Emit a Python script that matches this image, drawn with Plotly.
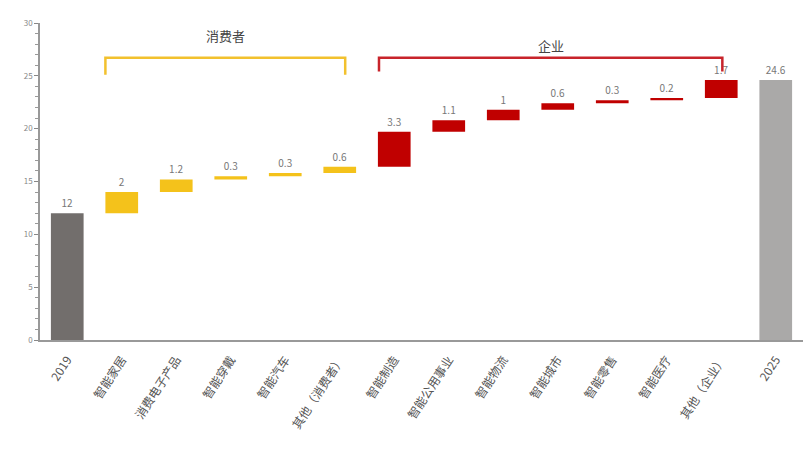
import numpy as np
import plotly.graph_objects as go

categories = ["2019", "智能家居", "消费电子产品", "智能穿戴", "智能汽车", "其他（消费者）",
              "智能制造", "智能公用事业", "智能物流", "智能城市", "智能零售", "智能医疗",
              "其他（企业）", "2025"]
values = [12, 2, 1.2, 0.3, 0.3, 0.6, 3.3, 1.1, 1, 0.6, 0.3, 0.2, 1.7, 24.6]
groups = ["start", "consumer", "consumer", "consumer", "consumer", "consumer",
          "enterprise", "enterprise", "enterprise", "enterprise", "enterprise", "enterprise",
          "enterprise", "end"]
value_labels = ["12", "2", "1.2", "0.3", "0.3", "0.6", "3.3", "1.1", "1", "0.6", "0.3", "0.2", "1.7", "24.6"]

colors = {"start": "#726e6c", "consumer": "#f4c21b", "enterprise": "#c00000", "end": "#aaa9a8"}
group_names = {"consumer": "消费者", "enterprise": "企业"}

vals = np.array(values, dtype=float)
bases = np.zeros_like(vals)
running = 0.0
for i, g in enumerate(groups):
    if g in ("start", "end"):
        bases[i] = 0
        running = vals[i]
    else:
        bases[i] = running
        running += vals[i]

fig = go.Figure()
fig.add_trace(go.Bar(
    x=categories, y=vals, base=bases,
    marker=dict(color=[colors[g] for g in groups], line=dict(width=0)),
    width=0.6,
    text=value_labels, textposition="outside",
    textfont=dict(size=10, color="#777777", family="Noto Sans CJK SC"),
    cliponaxis=False, showlegend=False, hoverinfo="skip",
))

# group brackets
bracket_style = {
    "consumer": dict(x0=0.7, x1=5.1, y=26.7, yend=25.1, color="#f2c12e", ty=28.8),
    "enterprise": dict(x0=5.72, x1=12.02, y=26.7, yend=25.4, color="#c8242b", ty=27.9),
}
for g, s in bracket_style.items():
    fig.add_shape(type="path",
                  path=f"M {s['x0']},{s['yend']} L {s['x0']},{s['y']} L {s['x1']},{s['y']} L {s['x1']},{s['yend']}",
                  xref="x", yref="y", line=dict(color=s["color"], width=2.5))
    fig.add_annotation(x=(s["x0"] + s["x1"]) / 2, y=s["ty"], xref="x", yref="y",
                       text=group_names[g], showarrow=False,
                       font=dict(size=13, color="#444444", family="Noto Sans CJK SC"))

fig.update_layout(
    width=806, height=462,
    margin=dict(l=40, r=3, t=23, b=122),
    plot_bgcolor="white", paper_bgcolor="white",
    bargap=0.4,
    font=dict(family="Noto Sans CJK SC", color="#666666"),
)
fig.update_xaxes(
    type="category", range=[-0.5, 13.5],
    tickangle=-57, tickfont=dict(size=12, color="#555555"),
    showline=True, linecolor="#999999", linewidth=2,
    showgrid=False, ticks="outside", ticklen=6, tickcolor="rgba(0,0,0,0)",
)
fig.update_yaxes(
    range=[0, 30], tickvals=[0, 5, 10, 15, 20, 25, 30],
    tickfont=dict(size=8, color="#888888"),
    showline=True, linecolor="#999999", linewidth=1.5,
    showgrid=False, zeroline=False,
    ticks="outside", ticklen=4, tickcolor="#888888",
    minor=dict(dtick=1, ticks="outside", ticklen=3, tickcolor="#999999"),
)

fig.write_html("out.html")
